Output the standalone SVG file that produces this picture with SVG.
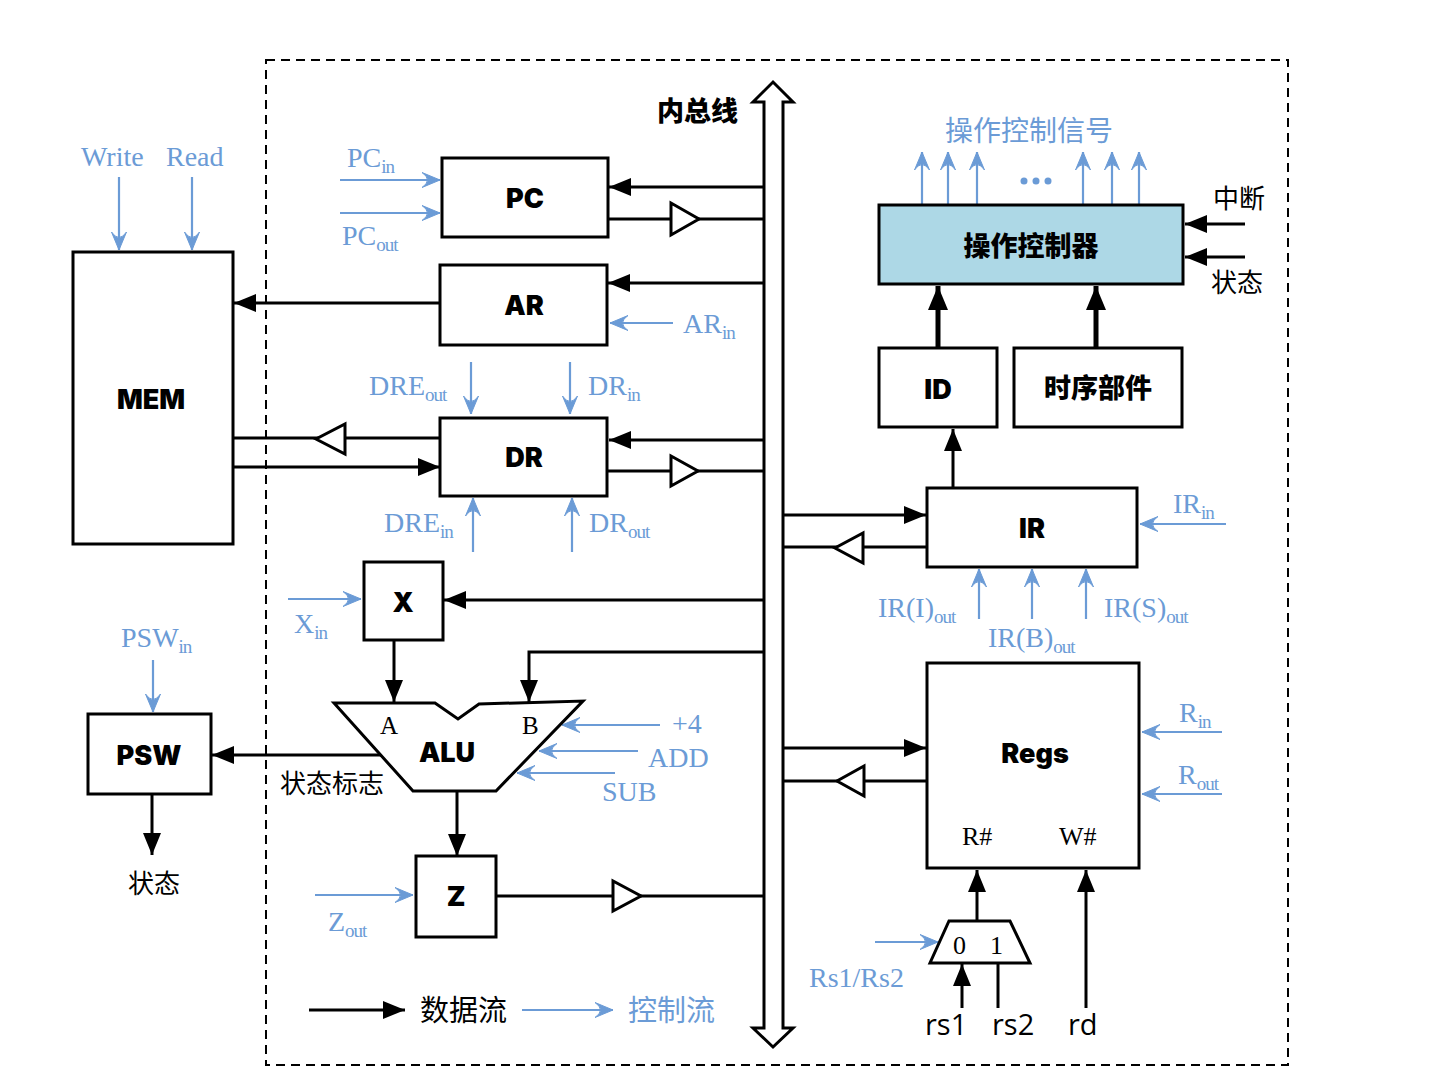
<svg xmlns="http://www.w3.org/2000/svg" width="1452" height="1084" viewBox="0 0 1452 1084">
<style>
.box{fill:#fff;stroke:#000;stroke-width:3}
.buf{fill:#fff;stroke:#000;stroke-width:3}
.dat{fill:none;stroke:#000;stroke-width:3;marker-end:url(#ka)}
.nd{fill:none;stroke:#000;stroke-width:3}
.thk{fill:none;stroke:#000;stroke-width:5;marker-end:url(#kb)}
.ctl{fill:none;stroke:#6b9bd6;stroke-width:2.2;marker-end:url(#ba)}
.lbl{font-family:Inter,"Open Sans","DejaVu Sans",sans-serif;font-weight:900;font-size:27px;text-anchor:middle;fill:#000}
.clbl{font-family:"Noto Sans CJK SC",sans-serif;font-weight:900;font-size:27px;text-anchor:middle;fill:#000}
.bt{font-family:"Liberation Serif","Times New Roman",serif;font-size:28px;fill:#6b9bd6}
.sub{font-size:19px;letter-spacing:-1px}
.bc{font-family:"Noto Sans CJK SC",sans-serif;font-size:28px;fill:#6b9bd6}
.kc{font-family:"Noto Sans CJK SC",sans-serif;font-size:26px;fill:#000}
.ks{font-family:"Liberation Serif","Times New Roman",serif;font-size:25px;fill:#000}
.kn{font-family:"Open Sans","Noto Sans",sans-serif;font-size:29px;fill:#000}
</style>
<defs>
<marker id="ka" markerUnits="userSpaceOnUse" markerWidth="22" markerHeight="18" refX="22" refY="9" orient="auto" overflow="visible"><path d="M0,0 L22,9 L0,18 Z" fill="#000"/></marker>
<marker id="kb" markerUnits="userSpaceOnUse" markerWidth="24" markerHeight="20" refX="24" refY="10" orient="auto" overflow="visible"><path d="M0,0 L24,10 L0,20 Z" fill="#000"/></marker>
<marker id="ba" markerUnits="userSpaceOnUse" markerWidth="18" markerHeight="16" refX="18" refY="8" orient="auto" overflow="visible"><path d="M18,8 L0,0.5 Q11,8 0,15.5 Z" fill="#6b9bd6" stroke="#6b9bd6" stroke-width="1" stroke-linejoin="round"/></marker>
</defs>
<rect width="1452" height="1084" fill="#fff"/>
<rect x="266" y="60" width="1022" height="1005" fill="none" stroke="#000" stroke-width="2" stroke-dasharray="9 6"/>

<g id="connectors">
<path class="dat" d="M764,187 L609,187"/>
<path class="nd" d="M608,219 L764,219"/>
<polygon class="buf" points="671,203 671,235 699,219"/>
<path class="dat" d="M764,283 L608,283"/>
<path class="dat" d="M440,303 L234,303"/>
<path class="nd" d="M440,438 L233,438"/>
<polygon class="buf" points="345,424 345,454 316,439"/>
<path class="dat" d="M233,467 L440,467"/>
<path class="dat" d="M764,440 L609,440"/>
<path class="nd" d="M607,471 L764,471"/>
<polygon class="buf" points="671,456 671,486 698,471"/>
<path class="dat" d="M764,600 L444,600"/>
<path class="dat" d="M394,640 L394,702"/>
<path class="dat" d="M764,652 L529,652 L529,702"/>
<path class="dat" d="M381,755 L212,755"/>
<path class="dat" d="M152,794 L152,855"/>
<path class="dat" d="M457,791 L457,856"/>
<path class="nd" d="M496,896 L764,896"/>
<polygon class="buf" points="613,881 613,911 641,896"/>
<path class="dat" d="M783,515 L926,515"/>
<path class="nd" d="M927,547 L783,547"/>
<polygon class="buf" points="863,533 863,563 835,548"/>
<path class="dat" d="M953,488 L953,429"/>
<path class="thk" d="M938,348 L938,286"/>
<path class="thk" d="M1096,348 L1096,286"/>
<path class="dat" d="M1245,224 L1185,224"/>
<path class="dat" d="M1245,257 L1185,257"/>
<path class="dat" d="M783,748 L926,748"/>
<path class="nd" d="M927,781 L783,781"/>
<polygon class="buf" points="864,766 864,796 837,781"/>
<path class="dat" d="M977,921 L977,870"/>
<path class="dat" d="M1086,1008 L1086,870"/>
<path class="dat" d="M962,1008 L962,964"/>
<path class="nd" d="M998,1008 L998,963"/>
<path class="dat" d="M309,1010 L405,1010"/>

<path class="ctl" d="M119,177 L119,250"/>
<path class="ctl" d="M192,177 L192,250"/>
<path class="ctl" d="M340,180 L440,180"/>
<path class="ctl" d="M340,213 L440,213"/>
<path class="ctl" d="M673,323 L610,323"/>
<path class="ctl" d="M471,362 L471,414"/>
<path class="ctl" d="M570,362 L570,414"/>
<path class="ctl" d="M473,552 L473,498"/>
<path class="ctl" d="M572,552 L572,498"/>
<path class="ctl" d="M288,599 L361,599"/>
<path class="ctl" d="M153,660 L153,712"/>
<path class="ctl" d="M660,725 L562,725"/>
<path class="ctl" d="M638,751 L539,751"/>
<path class="ctl" d="M615,773 L517,773"/>
<path class="ctl" d="M315,895 L413,895"/>
<path class="ctl" d="M522,1010 L613,1010"/>
<path class="ctl" d="M922,205 L922,152"/>
<path class="ctl" d="M948,205 L948,152"/>
<path class="ctl" d="M977,205 L977,152"/>
<path class="ctl" d="M1083,205 L1083,152"/>
<path class="ctl" d="M1112,205 L1112,152"/>
<path class="ctl" d="M1139,205 L1139,152"/>
<path class="ctl" d="M1226,524 L1140,524"/>
<path class="ctl" d="M979,619 L979,569"/>
<path class="ctl" d="M1032,619 L1032,569"/>
<path class="ctl" d="M1086,619 L1086,569"/>
<path class="ctl" d="M1222,732 L1142,732"/>
<path class="ctl" d="M1222,794 L1142,794"/>
<path class="ctl" d="M875,942 L938,942"/>
</g>

<g id="bus">
<path d="M764,1028 L753,1028 L773,1047 L793,1028 L783,1028 L783,102 L793,102 L773,82 L753,102 L764,102 Z" fill="#fff" stroke="#000" stroke-width="3" stroke-linejoin="miter"/>
<text x="657" y="121" class="clbl" style="text-anchor:start">内总线</text>
</g>

<g id="mem">
<rect class="box" x="73" y="252" width="160" height="292"/>
<text x="151" y="409" class="lbl">MEM</text>
<text x="81" y="166" class="bt">Write</text>
<text x="166" y="166" class="bt">Read</text>
</g>

<g id="pc">
<rect class="box" x="442" y="158" width="166" height="79"/>
<text x="525" y="208" class="lbl">PC</text>
<text x="347" y="167" class="bt">PC<tspan class="sub" dy="6">in</tspan></text>
<text x="342" y="245" class="bt">PC<tspan class="sub" dy="6">out</tspan></text>
</g>

<g id="ar">
<rect class="box" x="440" y="265" width="167" height="80"/>
<text x="524" y="315" class="lbl">AR</text>
<text x="683" y="333" class="bt">AR<tspan class="sub" dy="6">in</tspan></text>
</g>

<g id="dr">
<rect class="box" x="440" y="418" width="167" height="78"/>
<text x="524" y="467" class="lbl">DR</text>
<text x="369" y="395" class="bt">DRE<tspan class="sub" dy="6">out</tspan></text>
<text x="588" y="395" class="bt">DR<tspan class="sub" dy="6">in</tspan></text>
<text x="384" y="532" class="bt">DRE<tspan class="sub" dy="6">in</tspan></text>
<text x="589" y="532" class="bt">DR<tspan class="sub" dy="6">out</tspan></text>
</g>

<g id="x">
<rect class="box" x="364" y="562" width="79" height="78"/>
<text x="403" y="612" class="lbl">X</text>
<text x="294" y="633" class="bt">X<tspan class="sub" dy="6">in</tspan></text>
</g>

<g id="alu">
<polygon class="box" points="334,703 435,703 458,719 479,704 583,701 496,791 413,791"/>
<text x="380" y="734" class="ks">A</text>
<text x="522" y="734" class="ks">B</text>
<text x="447" y="762" class="lbl">ALU</text>
<text x="672" y="733" class="bt">+4</text>
<text x="648" y="767" class="bt">ADD</text>
<text x="602" y="801" class="bt">SUB</text>
<text x="280" y="793" class="kc">状态标志</text>
</g>

<g id="psw">
<rect class="box" x="88" y="714" width="123" height="80"/>
<text x="149" y="765" class="lbl">PSW</text>
<text x="121" y="647" class="bt">PSW<tspan class="sub" dy="6">in</tspan></text>
<text x="128" y="893" class="kc">状态</text>
</g>

<g id="z">
<rect class="box" x="416" y="856" width="80" height="81"/>
<text x="456" y="906" class="lbl">Z</text>
<text x="328" y="931" class="bt">Z<tspan class="sub" dy="6">out</tspan></text>
</g>

<g id="legend">
<text x="420" y="1021" class="kc" style="font-size:29px">数据流</text>
<text x="628" y="1021" class="bc" style="font-size:29px">控制流</text>
</g>

<g id="controller">
<rect x="879" y="205" width="304" height="79" fill="#add8e6" stroke="#000" stroke-width="3"/>
<text x="1031" y="256" class="clbl">操作控制器</text>
<text x="945" y="141" class="bc">操作控制信号</text>
<circle cx="1024" cy="181" r="3.5" fill="#6b9bd6"/>
<circle cx="1036" cy="181" r="3.5" fill="#6b9bd6"/>
<circle cx="1048" cy="181" r="3.5" fill="#6b9bd6"/>
<text x="1213" y="208" class="kc">中断</text>
<text x="1211" y="292" class="kc">状态</text>
</g>

<g id="id">
<rect class="box" x="879" y="348" width="118" height="79"/>
<text x="938" y="399" class="lbl">ID</text>
</g>

<g id="timing">
<rect class="box" x="1014" y="348" width="168" height="79"/>
<text x="1098" y="398" class="clbl">时序部件</text>
</g>

<g id="ir">
<rect class="box" x="927" y="488" width="210" height="79"/>
<text x="1032" y="538" class="lbl">IR</text>
<text x="1173" y="513" class="bt">IR<tspan class="sub" dy="6">in</tspan></text>
<text x="878" y="617" class="bt">IR(I)<tspan class="sub" dy="6">out</tspan></text>
<text x="988" y="647" class="bt">IR(B)<tspan class="sub" dy="6">out</tspan></text>
<text x="1104" y="617" class="bt">IR(S)<tspan class="sub" dy="6">out</tspan></text>
</g>

<g id="regs">
<rect class="box" x="927" y="663" width="212" height="205"/>
<text x="1035" y="763" class="lbl">Regs</text>
<text x="962" y="845" class="ks" style="font-size:26px">R#</text>
<text x="1059" y="845" class="ks" style="font-size:26px">W#</text>
<text x="1179" y="722" class="bt">R<tspan class="sub" dy="6">in</tspan></text>
<text x="1178" y="784" class="bt">R<tspan class="sub" dy="6">out</tspan></text>
</g>

<g id="mux">
<polygon class="box" points="949,921 1010,921 1030,963 930,963"/>
<text x="953" y="954" class="ks" style="font-size:26px">0</text>
<text x="990" y="954" class="ks" style="font-size:26px">1</text>
<text x="809" y="987" class="bt">Rs1/Rs2</text>
<text x="925" y="1035" class="kn">rs1</text>
<text x="992" y="1035" class="kn">rs2</text>
<text x="1068" y="1035" class="kn">rd</text>
</g>
</svg>
